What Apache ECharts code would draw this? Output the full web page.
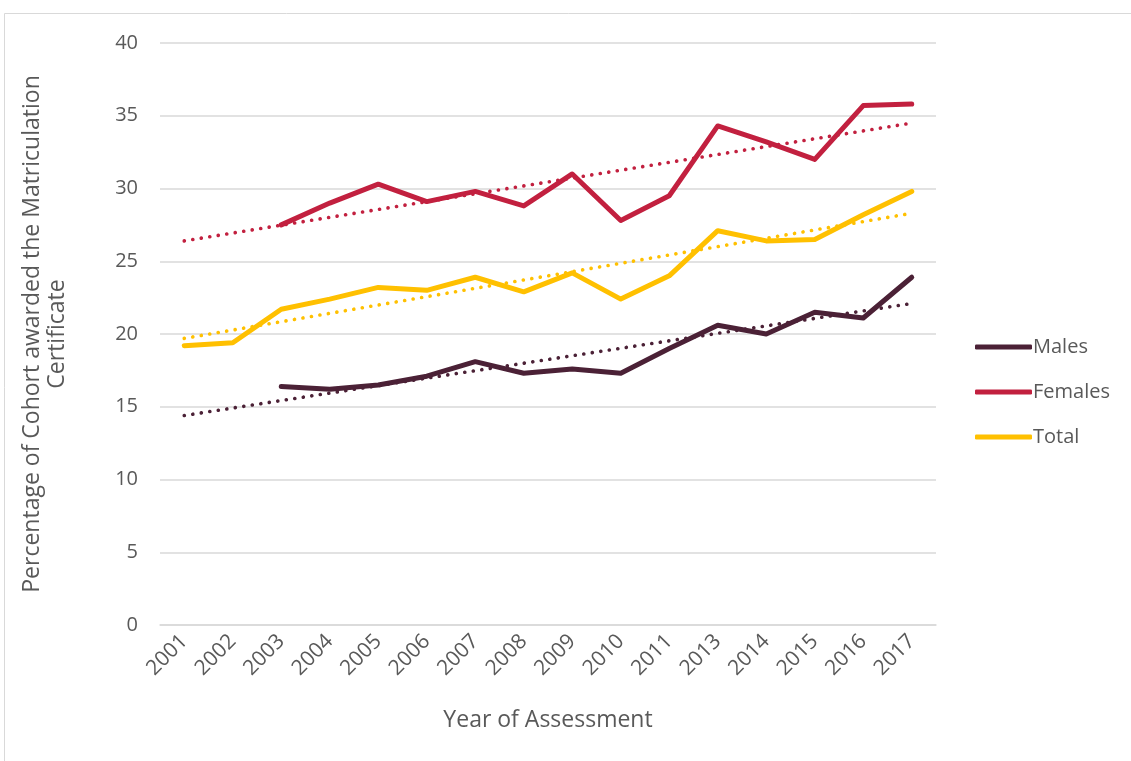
<!DOCTYPE html>
<html>
<head>
<meta charset="utf-8">
<script src="https://cdn.jsdelivr.net/npm/echarts@6/dist/echarts.min.js"></script>
<style>
html,body{margin:0;padding:0;background:#fff;}
#chart{width:1131px;height:761px;}
</style>
</head>
<body>
<div id="chart"></div>
<script>
const years = ['2001','2002','2003','2004','2005','2006','2007','2008','2009','2010','2011','2013','2014','2015','2016','2017'];
const males   = [null, null, 16.4, 16.2, 16.5, 17.1, 18.1, 17.3, 17.6, 17.3, 19.0, 20.6, 20.0, 21.5, 21.1, 23.9];
const females = [null, null, 27.5, 29.0, 30.3, 29.1, 29.8, 28.8, 31.0, 27.8, 29.5, 34.3, 33.2, 32.0, 35.7, 35.8];
const total   = [19.2, 19.4, 21.7, 22.4, 23.2, 23.0, 23.9, 22.9, 24.2, 22.4, 24.0, 27.1, 26.4, 26.5, 28.2, 29.8];
// linear trendline end values (2001, 2017)
const malesTrendEnds   = [14.4, 22.1];
const femalesTrendEnds = [26.4, 34.5];
const totalTrendEnds   = [19.7, 28.3];
const yTicks = [0, 5, 10, 15, 20, 25, 30, 35, 40];

const colors = { Males: '#4b2136', Females: '#c2203f', Total: '#ffc000' };
const font = '"Open Sans", "Liberation Sans", sans-serif';
const textColor = '#595959';

function trend(ends) {
  return years.map((y, i) => i === 0 ? ends[0] : (i === years.length - 1 ? ends[1] : null));
}
function mainSeries(name, data) {
  return {
    name: name, type: 'line', data: data, showSymbol: false, symbol: 'none',
    lineStyle: { color: colors[name], width: 5, cap: 'round', join: 'round' },
    itemStyle: { color: colors[name] }, z: 3, animation: false
  };
}
function trendSeries(name, ends) {
  return {
    name: name + ' trend', type: 'line', data: trend(ends), connectNulls: true,
    showSymbol: false, symbol: 'none', silent: true,
    lineStyle: { color: colors[name], width: 3.6, type: [0.1, 8.5], cap: 'round' },
    z: 2, animation: false
  };
}

const chart = echarts.init(document.getElementById('chart'), null, { renderer: 'canvas' });
chart.setOption({
  backgroundColor: '#fff',
  animation: false,
  grid: { left: 160, right: 195, top: 43, bottom: 136, containLabel: false },
  xAxis: {
    type: 'category', data: years, boundaryGap: true,
    axisLine: { lineStyle: { color: '#d9d9d9', width: 1.5 } },
    axisTick: { show: false },
    axisLabel: { rotate: 45, margin: 13, color: textColor, fontSize: 21, fontFamily: font, interval: 0 }
  },
  yAxis: {
    type: 'value', min: yTicks[0], max: yTicks[yTicks.length - 1], interval: 5,
    axisLine: { show: false }, axisTick: { show: false },
    axisLabel: { margin: 22, color: textColor, fontSize: 20, fontFamily: font },
    splitLine: { lineStyle: { color: '#d9d9d9', width: 1.5 } }
  },
  legend: {
    data: ['Males', 'Females', 'Total'],
    orient: 'vertical', left: 970, top: 332, itemGap: 25,
    itemWidth: 57, itemHeight: 5, icon: 'roundRect',
    textStyle: { color: textColor, fontSize: 20, fontFamily: font, lineHeight: 20, padding: [0, 0, 0, -4] },
    selectedMode: false
  },
  graphic: [
    { type: 'rect', shape: { x: 4.5, y: 13.5, width: 1140, height: 760 },
      style: { fill: 'none', stroke: '#d9d9d9', lineWidth: 1 }, silent: true, z: -1 },
    { type: 'text', x: 45, y: 334, rotation: Math.PI / 2,
      style: { text: 'Percentage of Cohort awarded the Matriculation\nCertificate',
        fill: textColor, font: '23px ' + font, align: 'center', verticalAlign: 'middle', lineHeight: 25 } },
    { type: 'text', x: 548, y: 720,
      style: { text: 'Year of Assessment', fill: textColor, font: '23px ' + font, align: 'center', verticalAlign: 'middle' } }
  ],
  series: [
    trendSeries('Males', malesTrendEnds),
    trendSeries('Females', femalesTrendEnds),
    trendSeries('Total', totalTrendEnds),
    mainSeries('Males', males),
    mainSeries('Females', females),
    mainSeries('Total', total)
  ]
});
</script>
</body>
</html>
